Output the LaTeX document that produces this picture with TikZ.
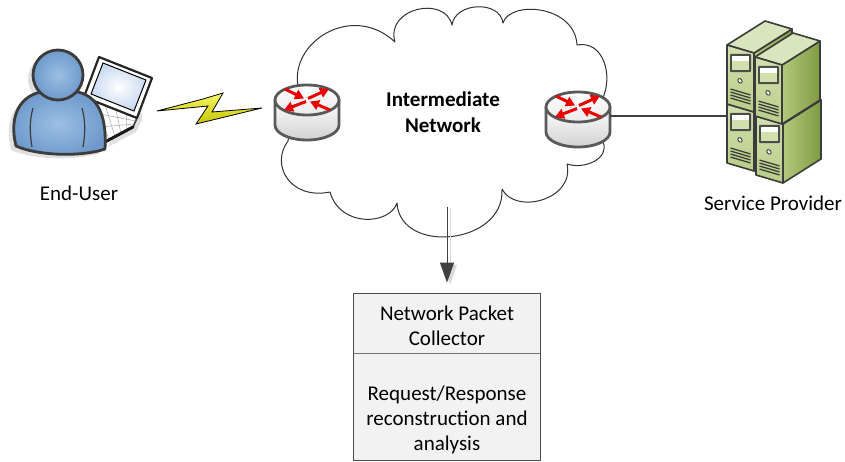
\documentclass[tikz,border=0pt]{standalone}
\usepackage{fontspec}
\setmainfont{Carlito}
\usetikzlibrary{arrows.meta,calc}

\definecolor{userIn}{HTML}{9CBFE4}
\definecolor{userOut}{HTML}{6E9ACB}
\definecolor{outlineDk}{HTML}{3C3C3C}
\definecolor{srvTop}{HTML}{D9E5BD}
\definecolor{srvFrontT}{HTML}{D2E0AE}
\definecolor{srvFrontB}{HTML}{B9CE88}
\definecolor{srvSideL}{HTML}{B3C97E}
\definecolor{srvSideR}{HTML}{7F9B41}
\definecolor{boltY}{HTML}{F4F400}
\definecolor{screenBlue}{HTML}{C9D9F0}
\definecolor{boxFill}{HTML}{F2F2F2}

\tikzset{
  lbl/.style={font=\fontsize{21}{25.5}\selectfont, inner sep=0pt, anchor=base},
  lblb/.style={lbl, font=\fontsize{21}{25.5}\selectfont\bfseries},
  iconbox/.style={inner sep=0pt, draw=none},
  cloudline/.style={draw=black!80, line width=1pt, fill=white, line join=round},
  routerline/.style={draw=black!65, line width=2.8pt, line join=round},
  rarrow/.style={draw=red!92!black, line width=3pt, -{Triangle[length=9pt,width=10pt]}},
  towerline/.style={draw=outlineDk, line width=1.6pt, line join=round},
  link/.style={draw=black!75, line width=1.4pt},
  flowarrow/.style={draw=black!75, line width=1pt, -{Triangle[length=20pt,width=14pt]}},
  flowshadow/.style={draw=black!15, line width=1pt, -{Triangle[length=20pt,width=14pt]}},
  collectorbox/.style={draw=black!70, line width=0.9pt, fill=boxFill, inner sep=0pt},
  router/.pic={
    \shade[top color=white, bottom color=black!18]
      (-32,0) -- (-32,25) .. controls (-32,33.3) and (-17.7,40) .. (0,40)
      .. controls (17.7,40) and (32,33.3) .. (32,25) -- (32,0) -- cycle;
    \draw[routerline]
      (-32,0) -- (-32,25) .. controls (-32,33.3) and (-17.7,40) .. (0,40)
      .. controls (17.7,40) and (32,33.3) .. (32,25) -- (32,0);
    \draw[routerline, top color=white, bottom color=black!8] (0,0) ellipse[x radius=32, y radius=15];
    \draw[rarrow] (-22,-11) -- (-3,-1.5);
    \draw[rarrow] (1,-1.5) -- (22,-11);
    \draw[rarrow] (-1,1.5) -- (-23,10);
    \draw[rarrow] (23,10) -- (3,1.5);
  },
  tower/.pic={
    \path[towerline, left color=srvSideL, right color=srvSideR]
      (27,8) -- (65,-16) -- (65,43) -- (27,67) -- cycle;
    \path[towerline, fill=srvTop] (0,0) -- (27,8) -- (65,-16) -- (38,-24) -- cycle;
    \path[towerline, top color=srvFrontT, bottom color=srvFrontB]
      (0,0) -- (27,8) -- (27,67) -- (0,59) -- cycle;
    \begin{scope}[x={(1pt,-0.296pt)}]
      \fill[black!70, rounded corners=1pt] (3,8) rectangle (24,20);
      \fill[white] (5,10) rectangle (22,13);
      \fill[srvFrontT] (5,15) rectangle (22,18);
      \draw[outlineDk, fill=white, line width=0.9pt] (13,32) circle[radius=2.2];
      \foreach \v in {43,46,49,52}
        \draw[outlineDk, line width=1.3pt] (3.5,\v) -- (23.5,\v);
    \end{scope}
  }
}

\begin{document}
\begin{tikzpicture}[x=1pt,y=-1pt]
\useasboundingbox (0,0) rectangle (845,461);

% ---------------- intermediate network cloud
\draw[cloudline] (298,86)
  .. controls (290,42) and (352,2) .. (395,42)
  .. controls (385,8) and (445,-5) .. (452,25)
  .. controls (455,2) and (500,0) .. (503,23)
  .. controls (510,0) and (575,5) .. (577,45)
  .. controls (603,40) and (614,75) .. (602,100)
  -- (603,142)
  .. controls (610,158) and (585,170) .. (567,164)
  .. controls (575,200) and (515,215) .. (502,189)
  .. controls (505,245) and (400,255) .. (397,203)
  .. controls (390,225) and (340,228) .. (330,192)
  .. controls (290,200) and (270,165) .. (288,141)
  -- cycle;
\node[lblb] (netA) at (443,106) {Intermediate};
\node[lblb] (netB) at (443,132) {Network};

% ---------------- routers at the edge of the network
\node[iconbox, minimum width=64pt, minimum height=56pt] (rtrA) at (307,112) {};
\pic at (307,100) {router};
\node[iconbox, minimum width=64pt, minimum height=56pt] (rtrB) at (578,116) {};
\pic at (578,107) {router};

% ---------------- laptop
\coordinate (kA) at (84,97);
\coordinate (kB) at (137,118);
\coordinate (kC) at (133,127);
\coordinate (kD) at (103,143);
\fill[black!12] (140,80) -- (142,120) -- (136,132) -- (108,147) -- (112,140) -- cycle;
\draw[outlineDk, line width=1.6pt, fill=white, line join=round] (kA) -- (kB) -- (kC) -- (kD) -- cycle;
\foreach \t in {0.33,0.66}
  \draw[black!35, line width=0.5pt] ($(kA)!\t!(kD)$) -- ($(kB)!\t!(kC)$);
\foreach \s in {0.2,0.4,0.6,0.8}
  \draw[black!35, line width=0.5pt] ($(kA)!\s!(kB)$) -- ($(kD)!\s!(kC)$);
\draw[black!90, line width=3pt, line cap=round] (kD) -- (kC);
\draw[black!85, line width=2.2pt, fill=white, line join=round]
  (99,57) -- (152,78) -- (137,118) -- (84,97) -- cycle;
\shade[inner color=white, outer color=screenBlue, draw=black, line width=1pt]
  (103,63) -- (146,80) -- (134,111) -- (91,94) -- cycle;

% ---------------- end user
\fill[black!12] (11,150) .. controls (4,122) and (13,97) .. (43,95) -- (65,95)
  .. controls (91,96) and (102,116) .. (100,153) .. controls (77,161) and (33,160) .. (11,150) -- cycle;
\fill[black!12] (53,79) circle[radius=25];
\path[draw=outlineDk, line width=2.8pt, inner color=userIn, outer color=userOut, line join=round]
  (16,146) .. controls (9,118) and (18,93) .. (48,91) -- (70,91)
  .. controls (96,92) and (107,112) .. (105,149)
  .. controls (82,157) and (38,156) .. (16,146) -- cycle;
\draw[outlineDk, line width=1.2pt] (33,108) .. controls (29,122) and (30,135) .. (32,147);
\draw[outlineDk, line width=1.2pt] (82,108) .. controls (86,122) and (85,135) .. (83,147);
\path[draw=outlineDk, line width=2.8pt, inner color=userIn, outer color=userOut] (58,75) circle[radius=25];
\node[iconbox, minimum width=150pt, minimum height=110pt] (user) at (80,98) {};
\node[lbl] (lblUser) at (79,200) {End-User};

% ---------------- wireless link
\path[draw=black, line width=0.8pt, line join=miter, top color=boltY!60!white, bottom color=boltY!80!black]
  (157,111) -- (203,99) -- (223,93) -- (212,112) -- (262,108) -- (196,124) -- (208,106) -- cycle;

% ---------------- service provider servers
\node[iconbox, minimum width=93pt, minimum height=165pt] (srv) at (773.5,102.5) {};
\pic at (727,104) {tower};
\pic at (727,45) {tower};
\pic at (756,116) {tower};
\pic at (755,57) {tower};
\node[lbl] (lblSrv) at (773,210) {Service Provider};

% link from edge router to the servers
\draw[link] (rtrB.east) -- (rtrB.east -| srv.west);

% ---------------- packet collector
\node[collectorbox, minimum width=187pt, minimum height=167pt] (collector) at (446.5,376.5) {};
\draw[black!55, line width=0.9pt]
  ($(collector.north west)!0.365!(collector.south west)$) -- ($(collector.north east)!0.365!(collector.south east)$);
\node[lbl] (c1) at (447,320) {Network Packet};
\node[lbl] (c2) at (447,345) {Collector};
\node[lbl] (c3) at (447,400) {Request/Response};
\node[lbl] (c4) at (447,425) {reconstruction and};
\node[lbl] (c5) at (447,450) {analysis};

% tap from the network down to the collector
\coordinate (tap) at (447,207);
\draw[flowshadow, shorten >=9pt] ([xshift=3pt,yshift=-1pt]tap) -- ([xshift=3pt,yshift=-1pt]tap |- collector.north);
\draw[flowarrow, shorten >=10pt] (tap) -- (tap |- collector.north);
\end{tikzpicture}
\end{document}
